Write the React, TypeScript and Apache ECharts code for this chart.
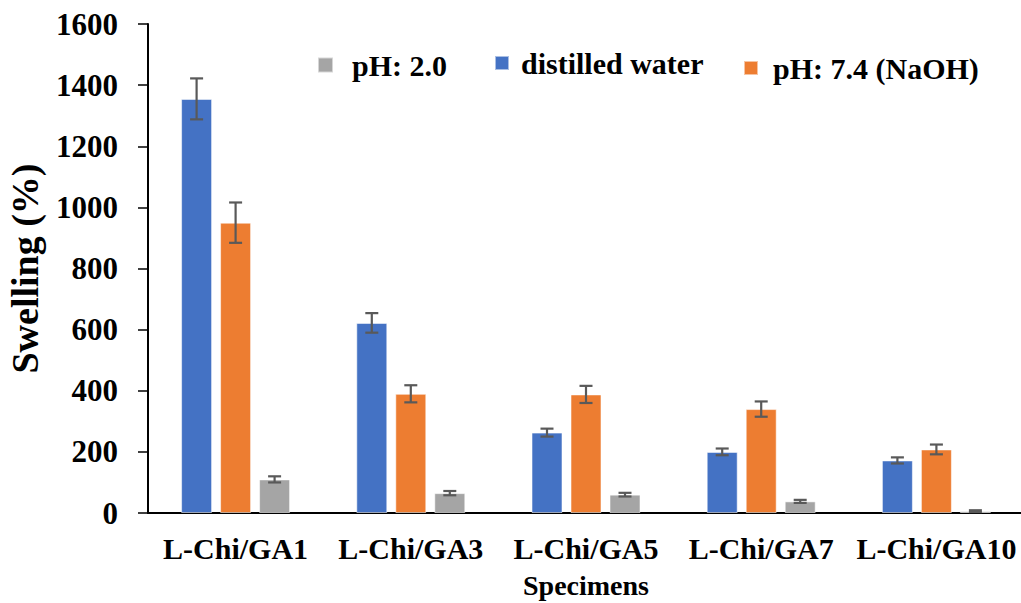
import React, { useEffect, useRef } from "react";
import * as echarts from "echarts";

const categories = ["L-Chi/GA1", "L-Chi/GA3", "L-Chi/GA5", "L-Chi/GA7", "L-Chi/GA10"];
const distilledWater = [1355, 622, 263, 200, 172];
const distilledWaterErr = [67, 32, 13, 11, 10];
const ph74 = [950, 390, 388, 340, 208];
const ph74Err = [66, 28, 28, 25, 16];
const ph20 = [110, 65, 60, 38, 6];
const ph20Err = [10, 7, 6, 5, 3];
const yTicks = { min: 0, max: 1600, interval: 200 };

const FONT = "'Liberation Serif', serif";
const BAR_W = 31;
const BAR_GAP = 8;

function errSeries(name: string, vals: number[], errs: number[], offsetIdx: number) {
  const data = vals.map((v, i) => [i, v - errs[i], v + errs[i]]);
  return {
    type: "custom",
    name: name + " err",
    z: 10,
    renderItem: (params: any, api: any) => {
      const i = api.value(0);
      const lo = api.coord([i, api.value(1)]);
      const hi = api.coord([i, api.value(2)]);
      const x = lo[0] + offsetIdx * (BAR_W + BAR_GAP);
      const cap = 6.5;
      const style = { stroke: "#595959", lineWidth: 2.2 };
      return {
        type: "group",
        children: [
          { type: "line", shape: { x1: x, y1: lo[1], x2: x, y2: hi[1] }, style },
          { type: "line", shape: { x1: x - cap, y1: lo[1], x2: x + cap, y2: lo[1] }, style },
          { type: "line", shape: { x1: x - cap, y1: hi[1], x2: x + cap, y2: hi[1] }, style },
        ],
      };
    },
    encode: { x: 0, y: [1, 2] },
    data,
  };
}

export default function App() {
  const ref = useRef<HTMLDivElement>(null);
  useEffect(() => {
    const chart = echarts.init(ref.current!, null, { renderer: "svg" });
    const lt = (pad: number) => ({
      fontFamily: FONT,
      fontWeight: "bold",
      fontSize: 30,
      color: "#000",
      padding: [0, 0, 0, pad],
    });
    const legendCommon = { padding: 0, itemWidth: 15, itemHeight: 15, icon: "rect" };
    const barCommon = {
      type: "bar",
      barWidth: BAR_W,
      barGap: `${(BAR_GAP / BAR_W) * 100}%`,
    };
    const border = { borderColor: "rgba(255,255,255,0.55)", borderWidth: 1 };
    chart.setOption({
      animation: false,
      backgroundColor: "#fff",
      grid: { left: 148, right: -3, top: 24, bottom: 90, outerBoundsMode: "none", containLabel: false },
      legend: [
        { ...legendCommon, data: ["pH: 2.0"], left: 317, top: 50, textStyle: lt(14) },
        { ...legendCommon, data: ["distilled water"], left: 494, top: 48, itemWidth: 14, itemHeight: 14, textStyle: lt(7) },
        { ...legendCommon, data: ["pH: 7.4 (NaOH)"], left: 743, top: 53, itemWidth: 14, itemHeight: 14, textStyle: lt(10) },
      ],
      xAxis: {
        type: "category",
        data: categories,
        name: "Specimens",
        nameLocation: "middle",
        nameGap: 58,
        nameTextStyle: { fontFamily: FONT, fontWeight: "bold", fontSize: 28, color: "#000" },
        axisLine: { lineStyle: { color: "#000", width: 2 } },
        axisTick: { length: 8, lineStyle: { color: "#000", width: 2 } },
        axisLabel: { interval: 0, fontFamily: FONT, fontWeight: "bold", fontSize: 30, color: "#000", margin: 20 },
      },
      yAxis: {
        type: "value",
        min: yTicks.min,
        max: yTicks.max,
        interval: yTicks.interval,
        name: "Swelling (%)",
        nameLocation: "middle",
        nameGap: 104,
        nameTextStyle: { fontFamily: FONT, fontWeight: "bold", fontSize: 38, color: "#000" },
        splitLine: { show: false },
        axisLine: { show: true, lineStyle: { color: "#000", width: 2 } },
        axisTick: { show: true, length: 10, lineStyle: { color: "#000", width: 1.5 } },
        axisLabel: {
          fontFamily: FONT,
          fontWeight: "bold",
          fontSize: 31,
          color: "#000",
          margin: 30,
          formatter: (v: number) => String(v),
        },
      },
      series: [
        { ...barCommon, name: "distilled water", data: distilledWater, itemStyle: { ...border, color: "#4472C4" } },
        { ...barCommon, name: "pH: 7.4 (NaOH)", data: ph74, itemStyle: { ...border, color: "#ED7D31" } },
        { ...barCommon, name: "pH: 2.0", data: ph20, itemStyle: { ...border, color: "#A5A5A5" } },
        errSeries("distilled water", distilledWater, distilledWaterErr, -1),
        errSeries("pH: 7.4 (NaOH)", ph74, ph74Err, 0),
        errSeries("pH: 2.0", ph20, ph20Err, 1),
      ],
    });
    return () => chart.dispose();
  }, []);
  return <div ref={ref} style={{ position: "fixed", left: 0, top: 0, width: 1021, height: 603 }} />;
}
